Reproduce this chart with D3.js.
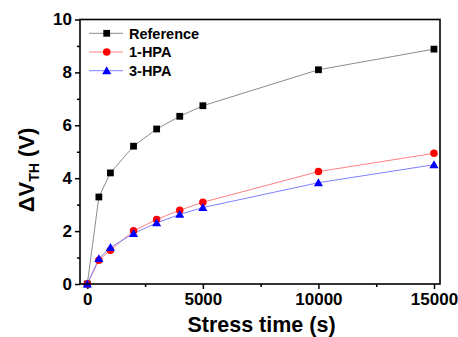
<!DOCTYPE html>
<html><head><meta charset="utf-8">
<script src="https://cdn.jsdelivr.net/npm/d3@7"></script>
<style>body{margin:0;background:#fff}svg{display:block}text{font-family:Arial,"Liberation Sans",sans-serif;font-weight:bold}</style>
</head><body><div id="chart"></div>
<script>
const times = [0, 500, 1000, 2000, 3000, 4000, 5000, 10000, 15000];
const referenceVals = [0, 3.29, 4.2, 5.21, 5.86, 6.34, 6.74, 8.1, 8.88];
const hpa1Vals = [0, 0.9, 1.28, 2.01, 2.44, 2.79, 3.09, 4.25, 4.94];
const hpa3Vals = [0, 0.96, 1.38, 1.91, 2.31, 2.63, 2.89, 3.83, 4.51];
const seriesNames = ["Reference", "1-HPA", "3-HPA"];
const xTicks = [0, 5000, 10000, 15000];
const xMinor = [2500, 7500, 12500];
const yTicks = [0, 2, 4, 6, 8, 10];
const yMinor = [1, 3, 5, 7, 9];

const W = 458, H = 337;
const L = 80, R = 440, T = 19.5, B = 284;
const svg = d3.select("#chart").append("svg").attr("width", W).attr("height", H);
const x = d3.scaleLinear().domain([-316, 15260]).range([L, R]);
const y = d3.scaleLinear().domain([0, 10]).range([B, T]);

const styles = [
  {vals: referenceVals, line: "#8c8c8c", fill: "#000", shape: d3.symbolSquare, size: 46},
  {vals: hpa1Vals, line: "#ff8080", fill: "#ff0000", shape: d3.symbolCircle, size: 44},
  {vals: hpa3Vals, line: "#8080ff", fill: "#0000ff", shape: d3.symbolTriangle, size: 36}
];

// axes
const xAxis = d3.axisBottom(x).tickValues(xTicks).tickSize(5).tickPadding(3).tickFormat(d3.format("d"));
const gx = svg.append("g").attr("transform", `translate(0,${B})`).call(xAxis);
gx.select(".domain").remove();
gx.selectAll("line").attr("stroke", "#000").attr("stroke-width", 1.5);
gx.selectAll("text").attr("font-size", 17).attr("fill", "#000").attr("dy", "0.75em");
const gxm = svg.append("g").attr("transform", `translate(0,${B})`)
  .call(d3.axisBottom(x).tickValues(xMinor).tickSize(3).tickFormat(""));
gxm.select(".domain").remove();
gxm.selectAll("line").attr("stroke", "#000").attr("stroke-width", 1.5);

const yAxis = d3.axisLeft(y).tickValues(yTicks).tickSize(5).tickPadding(3);
const gy = svg.append("g").attr("transform", `translate(${L},0)`).call(yAxis);
gy.select(".domain").remove();
gy.selectAll("line").attr("stroke", "#000").attr("stroke-width", 1.5);
gy.selectAll("text").attr("font-size", 17).attr("fill", "#000");
const gym = svg.append("g").attr("transform", `translate(${L},0)`)
  .call(d3.axisLeft(y).tickValues(yMinor).tickSize(3).tickFormat(""));
gym.select(".domain").remove();
gym.selectAll("line").attr("stroke", "#000").attr("stroke-width", 1.5);

// series
const lineGen = d3.line().x((d, i) => x(times[i])).y(d => y(d));
styles.forEach(s => {
  svg.append("path").datum(s.vals).attr("d", lineGen).attr("fill", "none")
    .attr("stroke", s.line).attr("stroke-width", 1);
});
styles.forEach(s => {
  svg.append("g").selectAll("path").data(s.vals).join("path")
    .attr("transform", (d, i) => `translate(${x(times[i])},${y(d) + (s.shape === d3.symbolTriangle ? 0.8 : 0)})`)
    .attr("d", d3.symbol().type(s.shape).size(s.size)).attr("fill", s.fill);
});

// frame
svg.append("rect").attr("x", L).attr("y", T).attr("width", R - L).attr("height", B - T)
  .attr("fill", "none").attr("stroke", "#000").attr("stroke-width", 1.6);

// legend
const leg = svg.append("g");
seriesNames.forEach((name, i) => {
  const s = styles[i];
  const ly = 33.3 + i * 18.7;
  leg.append("line").attr("x1", 89).attr("x2", 123).attr("y1", ly).attr("y2", ly)
    .attr("stroke", s.line).attr("stroke-width", 1);
  leg.append("path").attr("transform", `translate(106.7,${ly + (s.shape === d3.symbolTriangle ? 0.8 : 0)})`)
    .attr("d", d3.symbol().type(s.shape).size(s.size)).attr("fill", s.fill);
  leg.append("text").attr("x", 129).attr("y", ly).attr("dy", "0.36em")
    .attr("font-size", 14.5).attr("fill", "#000").text(name);
});

// axis titles
svg.append("text").attr("x", (185 + 338) / 2).attr("y", 332).attr("text-anchor", "middle")
  .attr("font-size", 21.5).attr("fill", "#000").text("Stress time (s)");
const yt = svg.append("text").attr("transform", "translate(34,170) rotate(-90)")
  .attr("text-anchor", "middle").attr("font-size", 22).attr("fill", "#000");
yt.append("tspan").text("ΔV");
yt.append("tspan").attr("font-size", 14).attr("dy", 5).text("TH");
yt.append("tspan").attr("dy", -5).text(" (V)");
</script></body></html>
